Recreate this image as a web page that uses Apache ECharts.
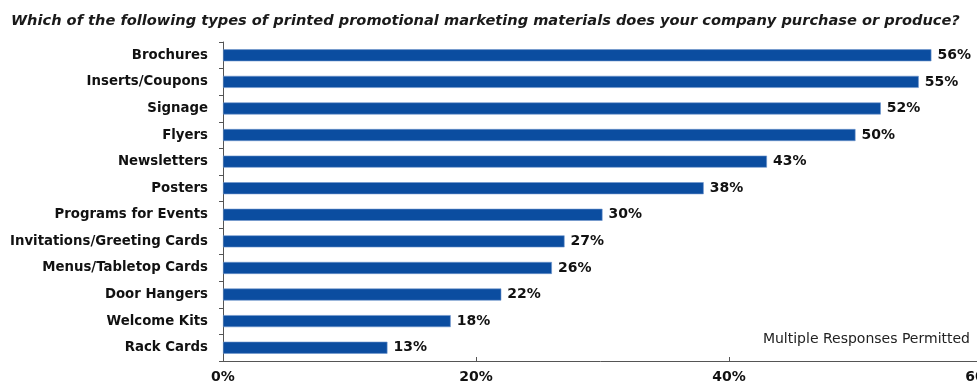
<!DOCTYPE html>
<html>
<head>
<meta charset="utf-8">
<script src="https://cdn.jsdelivr.net/npm/echarts@6/dist/echarts.min.js"></script>
<style>
  html, body { margin: 0; padding: 0; background: #fff; }
  #chart { width: 977px; height: 392px; }
</style>
</head>
<body>
<div id="chart"></div>
<script>
// Printed promotional materials purchased or produced (share of respondents, %)
const categories = [
  'Brochures', 'Inserts/Coupons', 'Signage', 'Flyers', 'Newsletters', 'Posters',
  'Programs for Events', 'Invitations/Greeting Cards', 'Menus/Tabletop Cards',
  'Door Hangers', 'Welcome Kits', 'Rack Cards'
];
const shares = [56, 55, 52, 50, 43, 38, 30, 27, 26, 22, 18, 13];
const axisTicks = [0, 20, 40, 60];

const titleText = 'Which of the following types of printed promotional marketing materials does your company purchase or produce?';
const noteText = 'Multiple Responses Permitted';

const chart = echarts.init(document.getElementById('chart'), null, { renderer: 'canvas' });

const labelFont = 'DejaVu Sans';

chart.setOption({
  backgroundColor: '#ffffff',
  animation: false,
  title: {
    text: titleText,
    left: 6,
    top: 9,
    textStyle: {
      fontFamily: labelFont,
      fontSize: 14.6,
      fontWeight: 'bold',
      fontStyle: 'italic',
      color: '#1a1a1a'
    }
  },
  graphic: [{
    type: 'text',
    right: 7,
    top: 332,
    style: {
      text: noteText,
      fontFamily: labelFont,
      fontSize: 14,
      fill: '#222'
    }
  }],
  // the plot runs a little past the right edge, so the last tick label is cut
  grid: {
    left: 223, width: 759, top: 42, bottom: 31,
    containLabel: false, outerBoundsMode: 'none'
  },
  xAxis: {
    type: 'value',
    min: axisTicks[0],
    max: axisTicks[axisTicks.length - 1],
    interval: axisTicks[1] - axisTicks[0],
    splitLine: { show: false },
    axisLine: { show: true, lineStyle: { color: '#555', width: 1 } },
    axisTick: { show: true, inside: true, length: 4, lineStyle: { color: '#555' } },
    axisLabel: {
      formatter: v => v + '%',
      fontFamily: labelFont,
      fontWeight: 'bold',
      fontSize: 14,
      color: '#111',
      margin: 9,
      hideOverlap: false
    }
  },
  yAxis: {
    type: 'category',
    data: categories,
    inverse: true,
    axisLine: { show: true, lineStyle: { color: '#555', width: 1 } },
    axisTick: { show: true, length: 4, lineStyle: { color: '#555' } },
    axisLabel: {
      fontFamily: labelFont,
      fontWeight: 'bold',
      fontSize: 13.3,
      color: '#111',
      margin: 15
    }
  },
  series: [{
    type: 'bar',
    data: shares,
    barWidth: 12,
    itemStyle: {
      color: '#0B4DA0',
      borderColor: '#6f95cc',
      borderWidth: 0.6
    },
    label: {
      show: true,
      position: 'right',
      distance: 6,
      formatter: p => p.value + '%',
      fontFamily: labelFont,
      fontWeight: 'bold',
      fontSize: 14,
      color: '#111'
    }
  }]
});
</script>
</body>
</html>
